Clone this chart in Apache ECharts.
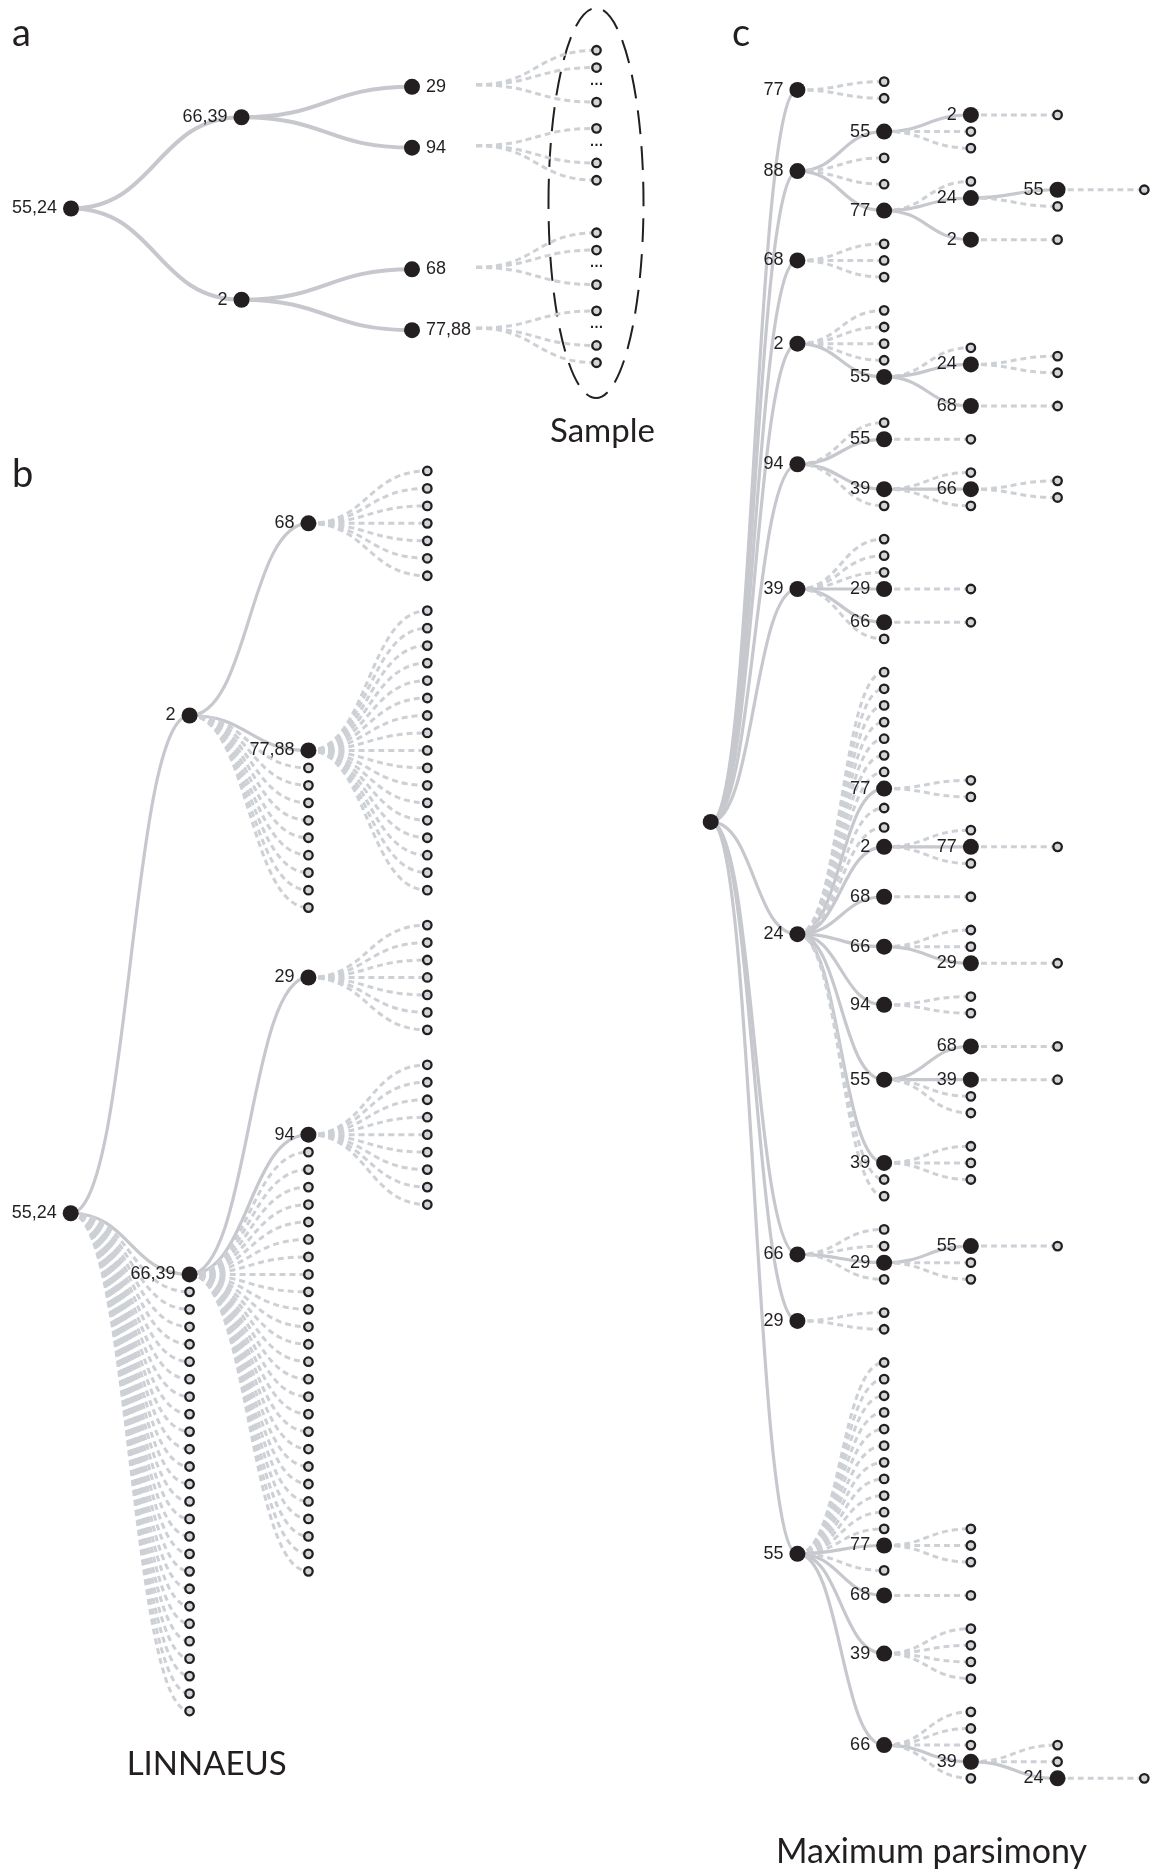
<!DOCTYPE html>
<html><head><meta charset="utf-8">
<script src="https://cdn.jsdelivr.net/npm/echarts@6/dist/echarts.min.js"></script>
<style>html,body{margin:0;padding:0;background:#fff}#c{width:1160px;height:1874px}</style>
</head><body><div id="c"></div>
<script>
// ================= DATA =================
// A node is [label, children]; a bare number k in a children list = k hollow (sampled) leaves.
const treeA = ['55,24', [
  ['66,39', [['29', []], ['94', []]]],
  ['2', [['68', []], ['77,88', []]]]
]];
// Sample column of panel a, one group per lowest node: o = sampled leaf, d = "…", x = empty slot
const sampleNodes = ['29', '94', '68', '77,88'];
const sampleSlots = [
  ['o', 'o', 'd', 'o', 'x'],
  ['x', 'o', 'd', 'o', 'o'],
  ['o', 'o', 'd', 'o', 'x'],
  ['x', 'o', 'd', 'o', 'o']
];
const treeB = ['55,24', [
  ['2', [['68', [7]], ['77,88', [17]], 9]],
  ['66,39', [['29', [7]], ['94', [9]], 25]],
  25
]];
const treeC = ['', [
  ['77', [2]],
  ['88', [
    ['55', [['2', [1]], 2]],
    2,
    ['77', [1, ['24', [['55', [1]], 1]], ['2', [1]]]]
  ]],
  ['68', [3]],
  ['2', [4, ['55', [1, ['24', [2]], ['68', [1]]]]]],
  ['94', [1, ['55', [1]], ['39', [1, ['66', [2]], 1]], 1]],
  ['39', [3, ['29', [1]], ['66', [1]], 1]],
  ['24', [7, ['77', [2]], 2, ['2', [1, ['77', [1]], 1]], ['68', [1]], ['66', [2, ['29', [1]]]],
          ['94', [2]], ['55', [['68', [1]], ['39', [1]], 2]], ['39', [3]], 2]],
  ['66', [2, ['29', [['55', [1]], 2]], 1]],
  ['29', [2]],
  ['55', [11, ['77', [3]], 1, ['68', [1]], ['39', [4]], ['66', [3, ['39', [2, ['24', [1]]]], 1]]]]
]];
const panelLetters = ['a', 'b', 'c'];
const captions = ['Sample', 'LINNAEUS', 'Maximum parsimony'];

// ================= STYLE =================
const INK = '#231f20', LINE = '#c6c8ce', DASH = '#cdd0d5', LEAF = '#d3d5da';
const SANS = "'Liberation Sans', Arial, sans-serif";

const styleA = {
  nodeSize: 16, leafSize: 8.5,
  solid: {color: LINE, width: 4, type: 'solid'},
  dash: {color: DASH, width: 3, type: [6, 4]},
  font: SANS, fontSize: 18
};
const styleBC = {
  nodeSize: 16, leafSize: 8.5,
  solid: {color: LINE, width: 3.2, type: 'solid'},
  dash: {color: DASH, width: 3, type: [6, 4]},
  font: SANS, fontSize: 18
};

function leafItem(st) {
  return {name: '', symbol: 'circle', symbolSize: st.leafSize,
    itemStyle: {color: LEAF, borderColor: INK, borderWidth: 2.3},
    lineStyle: st.dash, label: {show: false}};
}
function toData(node, st, lowRight) {
  const label = node[0], kids = node[1];
  const children = [];
  kids.forEach(function (k) {
    if (typeof k === 'number') { for (let i = 0; i < k; i++) children.push(leafItem(st)); }
    else children.push(toData(k, st, lowRight));
  });
  return {
    name: label, symbol: 'circle', symbolSize: st.nodeSize,
    itemStyle: {color: INK, borderWidth: 0},
    lineStyle: st.solid,
    label: {show: label !== '', position: (lowRight && children.length === 0) ? 'right' : 'left',
      distance: 6, color: INK, fontSize: st.fontSize, fontFamily: st.font},
    children: children
  };
}
function sampleGroup(slots) {
  return {
    name: '', symbol: 'circle', symbolSize: 1,
    itemStyle: {color: 'rgba(0,0,0,0)', borderWidth: 0}, label: {show: false},
    children: slots.map(function (s) {
      if (s === 'o') return leafItem(styleA);
      if (s === 'd') return {name: '\u2026', symbol: 'circle', symbolSize: 1,
        itemStyle: {color: 'rgba(0,0,0,0)', borderWidth: 0},
        lineStyle: {color: 'rgba(0,0,0,0)', width: 0},
        label: {show: true, position: 'inside', color: INK, fontSize: 14, fontWeight: 'bold',
          fontFamily: SANS, offset: [0, -4]}};
      return {name: '', symbol: 'circle', symbolSize: 1,
        itemStyle: {color: 'rgba(0,0,0,0)', borderWidth: 0},
        lineStyle: {color: 'rgba(0,0,0,0)', width: 0}, label: {show: false}};
    })
  };
}

function treeSeries(box, root) {
  return Object.assign({
    type: 'tree', orient: 'LR', layout: 'orthogonal', edgeShape: 'curve',
    initialTreeDepth: -1, expandAndCollapse: false, roam: false, animation: false,
    silent: true, symbol: 'circle',
    lineStyle: {color: LINE, width: 3, curveness: 0.5},
    emphasis: {disabled: true},
    data: [root]
  }, box);
}

// ================= LAYOUT =================
const A_BOX = {left: 71, top: 26, width: 341, height: 365};
const A_UNIT = A_BOX.height / 6;              // breadth unit of the 4-tip tree
const A_SLOT = [0, 1, 3, 4];                   // breadth positions of the 4 tips
const SAMPLE_PITCH = 17.3;

const series = [treeSeries(A_BOX, toData(treeA, styleA, true))];
sampleSlots.forEach(function (slots, i) {
  const cy = A_BOX.top + (A_SLOT[i] + 1) * A_UNIT - 2;
  series.push(treeSeries({left: 476, width: 120.5, top: cy - 2.5 * SAMPLE_PITCH, height: 5 * SAMPLE_PITCH},
    sampleGroup(slots)));
});
series.push(treeSeries({left: 70.7, top: 453.5, width: 356.6, height: 1275}, toData(treeB, styleBC, false)));
series.push(treeSeries({left: 710.7, top: 65, width: 433.6, height: 1730}, toData(treeC, styleBC, false)));

const TITLE_FONT = 'Lato, "Open Sans", sans-serif';
const graphic = [
  {type: 'ellipse', shape: {cx: 596, cy: 203, rx: 47.5, ry: 195}, silent: true,
    style: {fill: null, stroke: INK, lineWidth: 2, lineDash: [24, 12]}},
  {type: 'text', x: 12, y: 34, style: {text: panelLetters[0], font: '38px ' + TITLE_FONT, fill: INK, textAlign: 'left', textVerticalAlign: 'middle'}},
  {type: 'text', x: 12, y: 475, style: {text: panelLetters[1], font: '38px ' + TITLE_FONT, fill: INK, textAlign: 'left', textVerticalAlign: 'middle'}},
  {type: 'text', x: 732, y: 34, style: {text: panelLetters[2], font: '38px ' + TITLE_FONT, fill: INK, textAlign: 'left', textVerticalAlign: 'middle'}},
  {type: 'text', x: 550, y: 431, style: {text: captions[0], font: '33px ' + TITLE_FONT, fill: INK, textAlign: 'left', textVerticalAlign: 'middle'}},
  {type: 'text', x: 206.7, y: 1764, style: {text: captions[1], font: '33px ' + TITLE_FONT, fill: INK, textAlign: 'center', textVerticalAlign: 'middle'}},
  {type: 'text', x: 931.5, y: 1852, style: {text: captions[2], font: '34px ' + TITLE_FONT, fill: INK, textAlign: 'center', textVerticalAlign: 'middle'}}
];

const chart = echarts.init(document.getElementById('c'), null, {renderer: 'canvas'});
chart.setOption({backgroundColor: '#fff', animation: false, series: series, graphic: graphic});
</script></body></html>
